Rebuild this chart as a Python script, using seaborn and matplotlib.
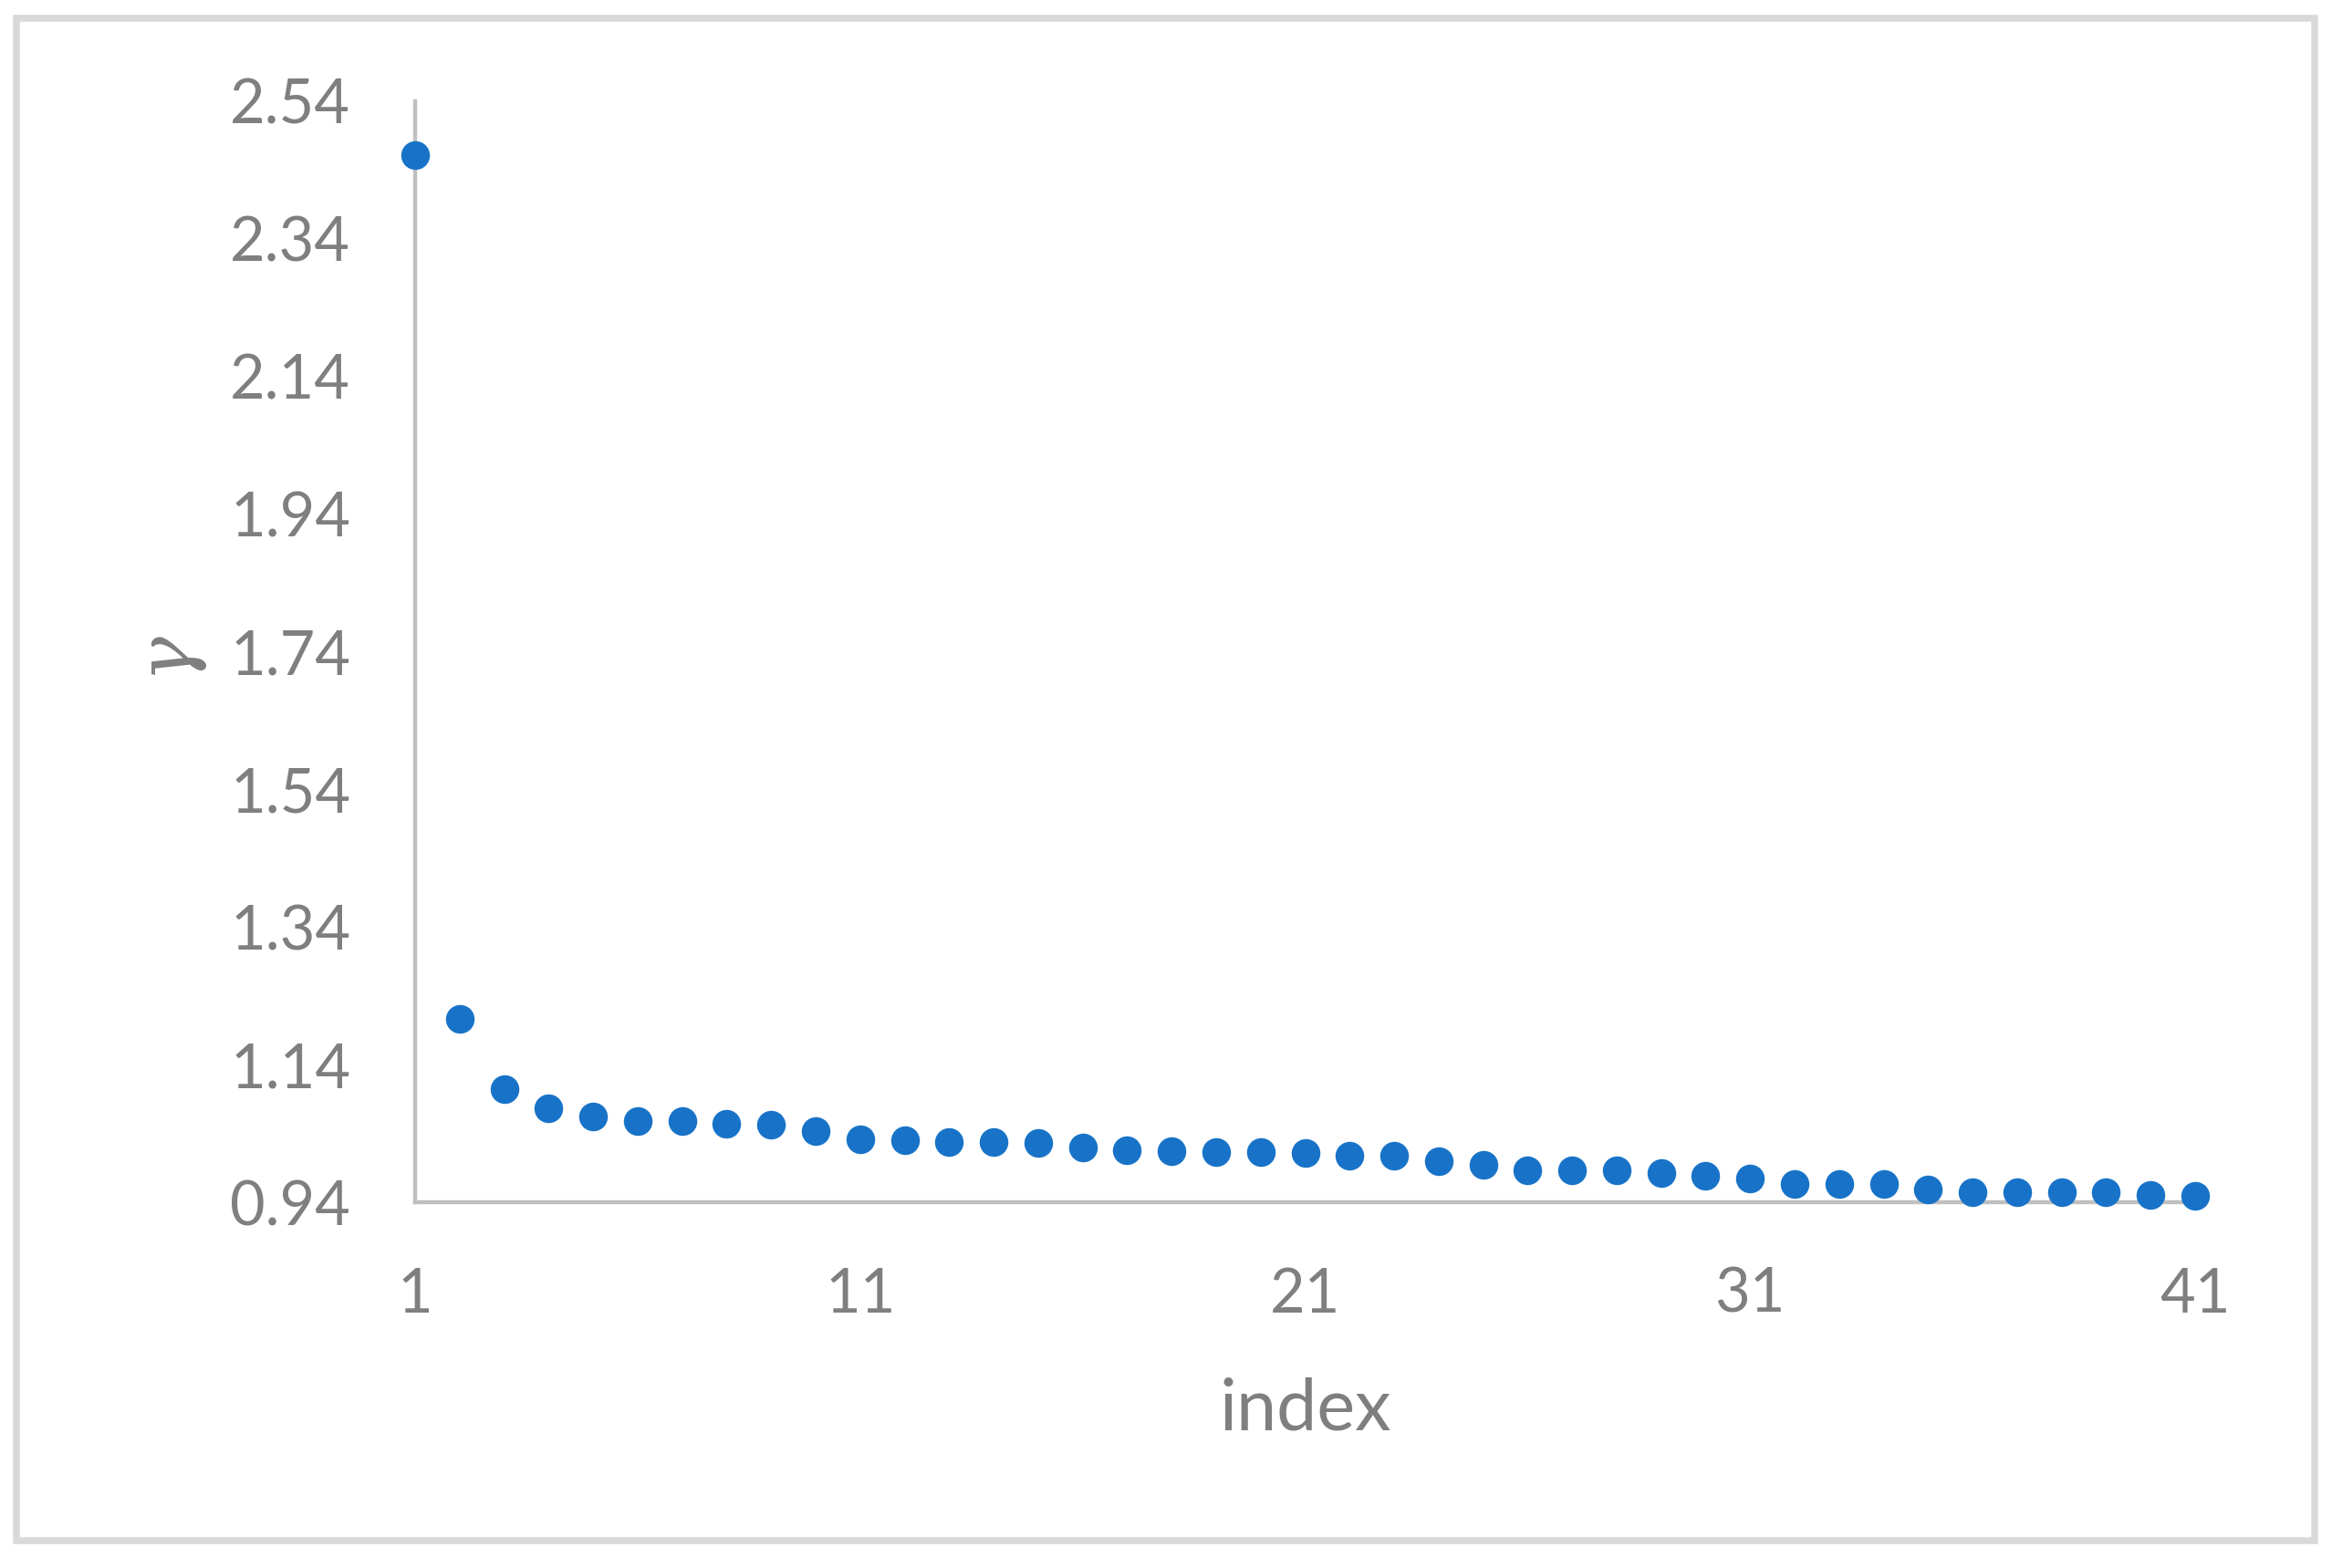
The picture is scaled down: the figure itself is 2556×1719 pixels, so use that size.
import numpy as np
import pandas as pd
import matplotlib
matplotlib.use("Agg")
import matplotlib.pyplot as plt
import seaborn as sns
from matplotlib.patches import Rectangle

# ---- data ----
index = list(range(1, 42))
gamma = [2.462, 1.206, 1.105, 1.076, 1.065, 1.058, 1.058, 1.054, 1.053, 1.044,
         1.031, 1.030, 1.028, 1.027, 1.026, 1.019, 1.015, 1.014, 1.013, 1.013,
         1.012, 1.008, 1.007, 0.999, 0.995, 0.987, 0.987, 0.986, 0.983, 0.978,
         0.974, 0.966, 0.966, 0.966, 0.958, 0.955, 0.955, 0.954, 0.954, 0.951,
         0.949]
x_ticks = [1, 11, 21, 31, 41]
y_ticks = [0.94, 1.14, 1.34, 1.54, 1.74, 1.94, 2.14, 2.34, 2.54]
x_label = "index"
y_label = "γ"

df = pd.DataFrame({"index": index, "gamma": gamma})

sns.set_theme(style="white")
plt.rcParams["font.family"] = ["Lato", "DejaVu Sans"]

DPI = 300
fig = plt.figure(figsize=(2556 / DPI, 1719 / DPI), dpi=DPI)
ax = fig.add_axes([455 / 2556, 1 - 1318 / 1719, (2406 - 455) / 2556, (1318 - 111) / 1719])

sns.scatterplot(data=df, x="index", y="gamma", ax=ax, color="#1873C8",
                s=57, linewidth=0, zorder=3, clip_on=False, legend=False)

ax.set_xlim(1, 41)
ax.set_ylim(0.94, 2.54)
ax.set_xticks(x_ticks)
ax.set_xticklabels([str(v) for v in x_ticks])
ax.set_yticks(y_ticks)
ax.set_yticklabels([f"{v:.2f}" for v in y_ticks])

grey = "#7f7f7f"
ax.tick_params(axis="both", length=0, labelsize=16, labelcolor=grey)
ax.tick_params(axis="x", pad=17)
ax.tick_params(axis="y", pad=17)

for side in ["top", "right"]:
    ax.spines[side].set_visible(False)
for side in ["left", "bottom"]:
    ax.spines[side].set_color("#bfbfbf")
    ax.spines[side].set_linewidth(1.05)
    ax.spines[side].set_zorder(2)

ax.set_xlabel(x_label, fontsize=19, color=grey, labelpad=14)
ax.set_ylabel(y_label, fontsize=20, color=grey, labelpad=8,
              family=["DejaVu Serif"], style="italic")

ax.set_facecolor("white")
fig.patch.set_facecolor("white")

# figure border
lw_px = 7.5
fig.patches.append(Rectangle((18 / 2556, 1 - 1689 / 1719), (2537 - 18) / 2556, (1689 - 20) / 1719,
                             transform=fig.transFigure, fill=False,
                             edgecolor="#d9d9d9", linewidth=lw_px * 72 / DPI))

fig.savefig("out.png", dpi=DPI)
